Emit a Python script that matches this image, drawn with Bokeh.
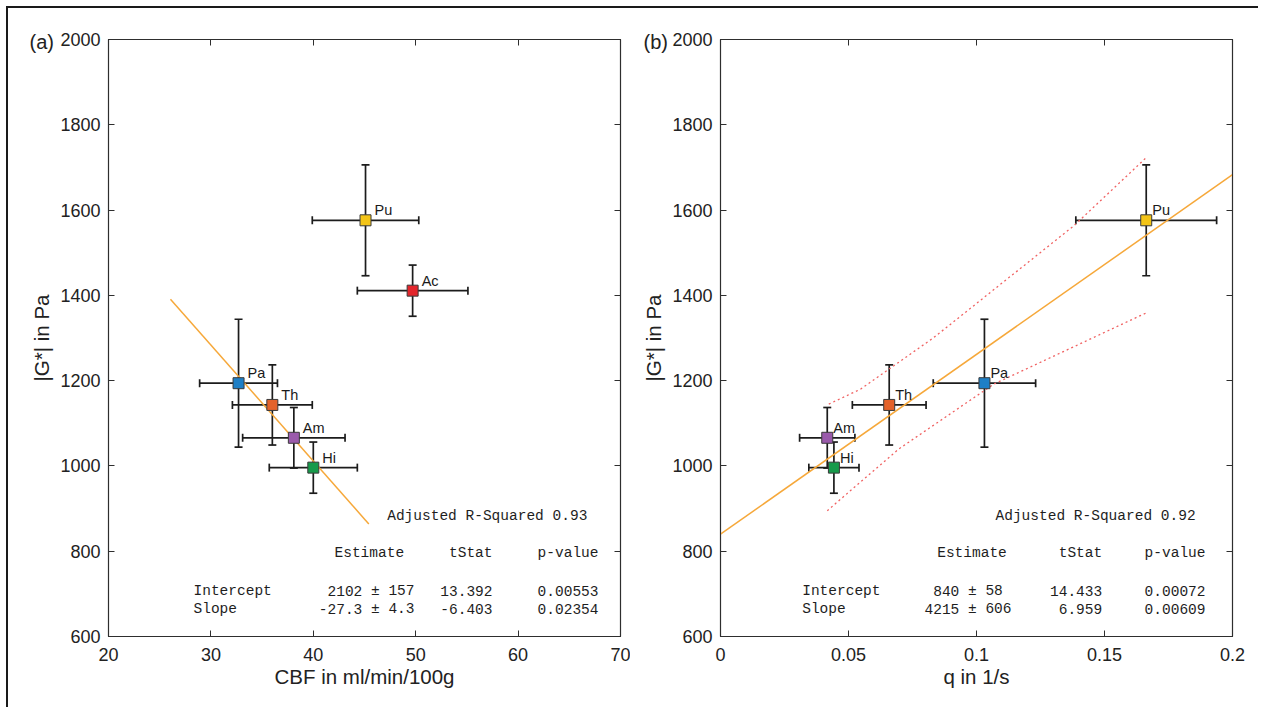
from bokeh.plotting import figure
from bokeh.models import (Range1d, LinearAxis, FixedTicker, ColumnDataSource, Whisker,
                          TeeHead, Label, LabelSet, CustomJSTickFormatter, Title)
from bokeh.layouts import row
from bokeh.core.properties import value
from bokeh.embed import file_html
from bokeh.resources import INLINE

# ---------------- data ----------------
names_a = ["Pu", "Ac", "Pa", "Th", "Am", "Hi"]
colors_a = ["#f3c416", "#e3262c", "#1e7fc6", "#e4622a", "#9a5aab", "#169a4a"]
cbf = [45.1, 49.7, 32.7, 36.0, 38.1, 40.0]
cbf_err = [5.2, 5.4, 3.8, 3.9, 5.0, 4.3]
g_a = [1576, 1411, 1194, 1143, 1066, 996]
g_err_a = [130, 60, 150, 94, 71, 60]

names_b = ["Pu", "Pa", "Th", "Am", "Hi"]
colors_b = ["#f3c416", "#1e7fc6", "#e4622a", "#9a5aab", "#169a4a"]
q = [0.1663, 0.1031, 0.0659, 0.0417, 0.0443]
q_err = [0.0275, 0.0200, 0.0144, 0.0108, 0.0098]
g_b = [1576, 1194, 1143, 1066, 996]
g_err_b = [130, 150, 94, 71, 60]

fit_a_x = [26.05, 45.42]
fit_a_y = [1391, 864]
fit_b_x = [0.0, 0.2]
fit_b_y = [840, 1683]
band_up_q = [0.0423, 0.0547, 0.0831, 0.1380, 0.1663]
band_up_g = [1145, 1180, 1300, 1563, 1723]
band_lo_q = [0.0417, 0.0697, 0.1068, 0.1667]
band_lo_g = [895, 1040, 1192, 1360]

x_ticks_a = [20, 30, 40, 50, 60, 70]
x_ticks_b = [0, 0.05, 0.1, 0.15, 0.2]
y_ticks = [600, 800, 1000, 1200, 1400, 1600, 1800, 2000]

stats_a = {"r2": "Adjusted R-Squared 0.93",
           "est": ["2102", "-27.3"], "err": ["± 157", "± 4.3"],
           "t": ["13.392", "-6.403"], "p": ["0.00553", "0.02354"]}
stats_b = {"r2": "Adjusted R-Squared 0.92",
           "est": ["840", "4215"], "err": ["± 58", "± 606"],
           "t": ["14.433", "6.959"], "p": ["0.00072", "0.00609"]}
row_names = ["Intercept", "Slope"]
headers = ["Estimate", "tStat", "p-value"]

# ---------------- style ----------------
FW, FH = 512, 597
SANS = "Liberation Sans"
MONO = "Liberation Mono"
AX = "#2e2e2e"
EB = "#1c1c1c"
YR = (600, 2000)


def make_panel(xr, xticks, min_left, min_right, xlabel, tag, tag_offset, fmt_js=None):
    p = figure(frame_width=FW, frame_height=FH, min_border_left=min_left,
               min_border_right=min_right, min_border_top=31, min_border_bottom=73,
               x_range=Range1d(*xr), y_range=Range1d(*YR),
               output_backend="svg", toolbar_location=None,
               background_fill_color="white", border_fill_color="white")
    p.title.visible = False
    p.xgrid.visible = False
    p.ygrid.visible = False
    p.outline_line_color = AX
    p.outline_line_width = 1.2

    xa = p.below[0]
    xa.ticker = FixedTicker(ticks=xticks)
    if fmt_js:
        xa.formatter = CustomJSTickFormatter(code=fmt_js)
    ya = p.left[0]
    ya.ticker = FixedTicker(ticks=y_ticks)
    for ax in (xa, ya):
        ax.major_tick_in = 6
        ax.major_tick_out = 0
        ax.minor_tick_line_color = None
        ax.axis_line_color = AX
        ax.major_tick_line_color = AX
        ax.major_label_text_font = SANS
        ax.major_label_text_font_size = "18px"
        ax.major_label_text_color = "#222222"
        ax.axis_label_text_font = SANS
        ax.axis_label_text_font_size = "20.5px"
        ax.axis_label_text_font_style = "normal"
        ax.axis_label_text_color = "#222222"
    xa.major_label_standoff = 11
    xa.axis_label_standoff = 1
    xa.axis_label = xlabel
    ya.major_label_standoff = 8
    ya.axis_label_standoff = 4
    ya.axis_label = "|G*| in Pa"

    for loc, tk in (("above", xticks), ("right", y_ticks)):
        ax = LinearAxis(ticker=FixedTicker(ticks=tk), major_label_text_font_size="1px",
                        major_label_text_color=None,
                        major_label_standoff=0, major_tick_in=6, major_tick_out=0,
                        minor_tick_line_color=None, axis_line_color=AX,
                        major_tick_line_color=AX)
        p.add_layout(ax, loc)

    p.add_layout(Title(text=tag, align="left", offset=tag_offset, standoff=-27,
                       vertical_align="bottom", text_font=SANS, text_font_size="20px",
                       text_font_style="normal", text_color="#222222"), "above")
    return p


def fx(xr, px):
    return xr[0] + px / FW * (xr[1] - xr[0])


def fy(py):
    return YR[1] - py / FH * (YR[1] - YR[0])


def add_points(p, xs, xerr, ys, yerr, names, colors, lab_dx):
    src = ColumnDataSource(dict(
        x=xs, y=ys, name=names, color=colors,
        xlo=[a - b for a, b in zip(xs, xerr)], xhi=[a + b for a, b in zip(xs, xerr)],
        ylo=[a - b for a, b in zip(ys, yerr)], yhi=[a + b for a, b in zip(ys, yerr)]))
    for dim, base, lo, hi in (("height", "x", "ylo", "yhi"), ("width", "y", "xlo", "xhi")):
        p.add_layout(Whisker(source=src, base=base, lower=lo, upper=hi, dimension=dim,
                             line_color=EB, line_width=1.7,
                             upper_head=TeeHead(size=8, line_color=EB, line_width=1.7),
                             lower_head=TeeHead(size=8, line_color=EB, line_width=1.7)))
    p.scatter("x", "y", source=src, marker="square", size=11, fill_color="color",
              line_color="#3a3a3a", line_width=1)
    p.add_layout(LabelSet(x="x", y="y", text="name", source=src, x_offset=lab_dx, y_offset=5,
                          text_font=value(SANS), text_font_size="14.5px",
                          text_color="#1a1a1a", text_baseline="alphabetic"))


def add_stats(p, xr, st, pos):
    def lab(px, py, text, align, font=MONO):
        p.add_layout(Label(x=fx(xr, px), y=fy(py), text=text, text_align=align,
                           text_baseline="middle", text_font=font,
                           text_font_size="14.5px", text_color="#1e1e1e"))
    lab(pos["r2"], 476, st["r2"], "left")
    lab(pos["hdr_est"], 513, headers[0], "left")
    lab(pos["t"], 513, headers[1], "right")
    lab(pos["p"], 513, headers[2], "right")
    for i, py in enumerate((551, 569)):
        lab(pos["name"], py, row_names[i], "left")
        lab(pos["est"], py, st["est"][i], "right")
        lab(pos["pm"], py, st["err"][i], "left")
        lab(pos["t"], py, st["t"][i], "right")
        lab(pos["p"], py, st["p"][i], "right")


# ---------------- panel (a) ----------------
xr_a = (20, 70)
pa = make_panel(xr_a, x_ticks_a, 100, 10, "CBF in ml/min/100g", "(a)", -79)
pa.line(fit_a_x, fit_a_y, line_color="#f6a83a", line_width=1.5)
add_points(pa, cbf, cbf_err, g_a, g_err_a, names_a, colors_a, 9)
add_stats(pa, xr_a, stats_a, dict(r2=278.7, hdr_est=226, t=384, p=490, name=85,
                                  est=253.8, pm=262.5))

# ---------------- panel (b) ----------------
xr_b = (0, 0.2)
pb = make_panel(xr_b, x_ticks_b, 90, 28, "q in 1/s", "(b)", -77, fmt_js="return tick.toString();")
pb.line(band_up_q, band_up_g, line_color="#f06262", line_width=1.3, line_dash="2 3")
pb.line(band_lo_q, band_lo_g, line_color="#f06262", line_width=1.3, line_dash="2 3")
pb.line(fit_b_x, fit_b_y, line_color="#f6a83a", line_width=1.5)
add_points(pb, q, q_err, g_b, g_err_b, names_b, colors_b, 6)
add_stats(pb, xr_b, stats_b, dict(r2=275, hdr_est=216.7, t=381.7, p=485, name=81.7,
                                  est=238.8, pm=247.5))

layout = row(pa, pb, styles={"margin-left": "8px", "margin-top": "8px",
                             "box-shadow": "-2px -2px 0 0 #1a1a1a"})
open("out.html", "w").write(file_html(layout, INLINE))
